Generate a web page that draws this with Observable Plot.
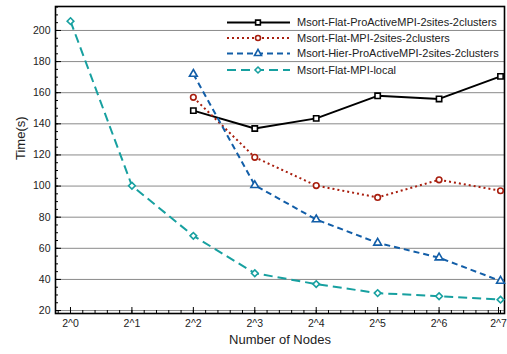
<!DOCTYPE html>
<html><head><meta charset="utf-8">
<script src="https://cdn.jsdelivr.net/npm/d3@7"></script>
<script src="https://cdn.jsdelivr.net/npm/@observablehq/plot@0.6"></script>
<style>
html,body{margin:0;padding:0;background:#fff;}
#chart{position:relative;width:507px;height:354px;}
</style>
</head><body>
<div id="chart"></div>
<script>
// Data
const xExp = [0, 1, 2, 3, 4, 5, 6, 7];
const xTickLabels = ["2^0", "2^1", "2^2", "2^3", "2^4", "2^5", "2^6", "2^7"];
const seriesNames = [
  "Msort-Flat-ProActiveMPI-2sites-2clusters",
  "Msort-Flat-MPI-2sites-2clusters",
  "Msort-Hier-ProActiveMPI-2sites-2clusters",
  "Msort-Flat-MPI-local"
];
const flatProActive = [null, null, 148.5, 137, 143.5, 158, 156, 170.5];
const flatMPI       = [null, null, 157, 118.5, 100.3, 92.7, 104, 97];
const hierProActive = [null, null, 172, 100.5, 78.5, 63.5, 54, 39];
const flatLocal     = [206, 100.2, 68, 44, 37, 31.2, 29.2, 27];
const yTicks = [20, 40, 60, 80, 100, 120, 140, 160, 180, 200];

const styles = [
  {color: "#000000", dash: null,  symbol: "square",   r: 3.0},
  {color: "#a81e0e", dash: "2,3", symbol: "circle",   r: 2.8},
  {color: "#125ea8", dash: "6,4", symbol: "triangle", r: 2.9},
  {color: "#17a0a0", dash: "9,5", symbol: "diamond2", r: 3.0}
];
const allSeries = [flatProActive, flatMPI, hierProActive, flatLocal];

const rows = [];
allSeries.forEach((vals, i) => vals.forEach((v, j) => {
  if (v != null) rows.push({series: seriesNames[i], k: i, x: xExp[j], y: v});
}));

const xMinor = d3.range(-1, 36).map(d => d / 5);
const yMinor = d3.range(20, 216, 5);

const lineMarks = allSeries.map((_, i) => Plot.line(rows.filter(d => d.k === i), {
  x: "x", y: "y", stroke: styles[i].color, strokeWidth: 2,
  strokeDasharray: styles[i].dash, strokeLinecap: "butt"
}));
const dotMarks = allSeries.map((_, i) => Plot.dot(rows.filter(d => d.k === i), {
  x: "x", y: "y", stroke: styles[i].color, fill: "white", strokeWidth: 1.6,
  symbol: () => styles[i].symbol, r: styles[i].r
}));

const plot = Plot.plot({
  width: 507, height: 354,
  marginLeft: 55, marginRight: 3, marginTop: 6, marginBottom: 41,
  x: {domain: [-0.244, 7.065]},
  y: {domain: [18.1, 215.4]},
  style: {fontFamily: "'Liberation Sans', Arial, sans-serif", fontSize: "10.5px", color: "#222", background: "#fff"},
  marks: [
    Plot.gridY(yTicks, {stroke: "#8a8a8a", strokeOpacity: 1, strokeWidth: 1}),
    Plot.axisX(xMinor, {tickSize: -3, tickFormat: () => "", stroke: "#000", label: null}),
    Plot.axisX(xExp.slice(0, 7), {tickSize: -6, tickPadding: 12, tickFormat: d => xTickLabels[d], stroke: "#000", fill: "#222", label: null}),
    Plot.axisX(xExp.slice(7), {tickSize: -6, tickPadding: 12, dx: -2, tickFormat: d => xTickLabels[d], stroke: "#000", fill: "#222", label: null}),
    Plot.axisY(yMinor, {tickSize: -3, tickFormat: () => "", stroke: "#000", label: null}),
    Plot.axisY(yTicks, {tickSize: -6, tickPadding: 11, stroke: "#000", fill: "#222", label: null}),
    Plot.frame({stroke: "#000", strokeWidth: 1.6}),
    ...lineMarks,
    ...dotMarks,
    Plot.text(["Number of Nodes"], {frameAnchor: "bottom", dy: 30, fontSize: 13, fill: "#222"}),
    Plot.text(["Time(s)"], {frameAnchor: "left", dx: -35, rotate: -90, fontSize: 13, fill: "#222"})
  ]
});
document.getElementById("chart").appendChild(plot);

// Legend (drawn in the top-right corner of the plot area)
const svg = d3.select(plot);
const lg = svg.append("g").attr("font-family", "'Liberation Sans', Arial, sans-serif")
  .attr("font-size", 11).attr("text-anchor", "start");
const legendY = [22.5, 38, 53.5, 70];
seriesNames.forEach((name, i) => {
  const g = lg.append("g").attr("transform", `translate(0,${legendY[i]})`);
  g.append("line").attr("x1", 227).attr("x2", 290).attr("y1", 0).attr("y2", 0)
    .attr("stroke", styles[i].color).attr("stroke-width", 2)
    .attr("stroke-dasharray", styles[i].dash);
  const sym = {square: d3.symbolSquare, circle: d3.symbolCircle, triangle: d3.symbolTriangle, diamond2: d3.symbolDiamond2}[styles[i].symbol];
  g.append("path").attr("transform", "translate(258,0)")
    .attr("d", d3.symbol(sym, Math.PI * styles[i].r * styles[i].r * 0.8)())
    .attr("fill", "white").attr("stroke", styles[i].color).attr("stroke-width", 1.6);
  g.append("text").attr("x", 297).attr("y", 0).attr("dy", "0.35em").attr("fill", "#222").text(name);
});
</script>
</body></html>
